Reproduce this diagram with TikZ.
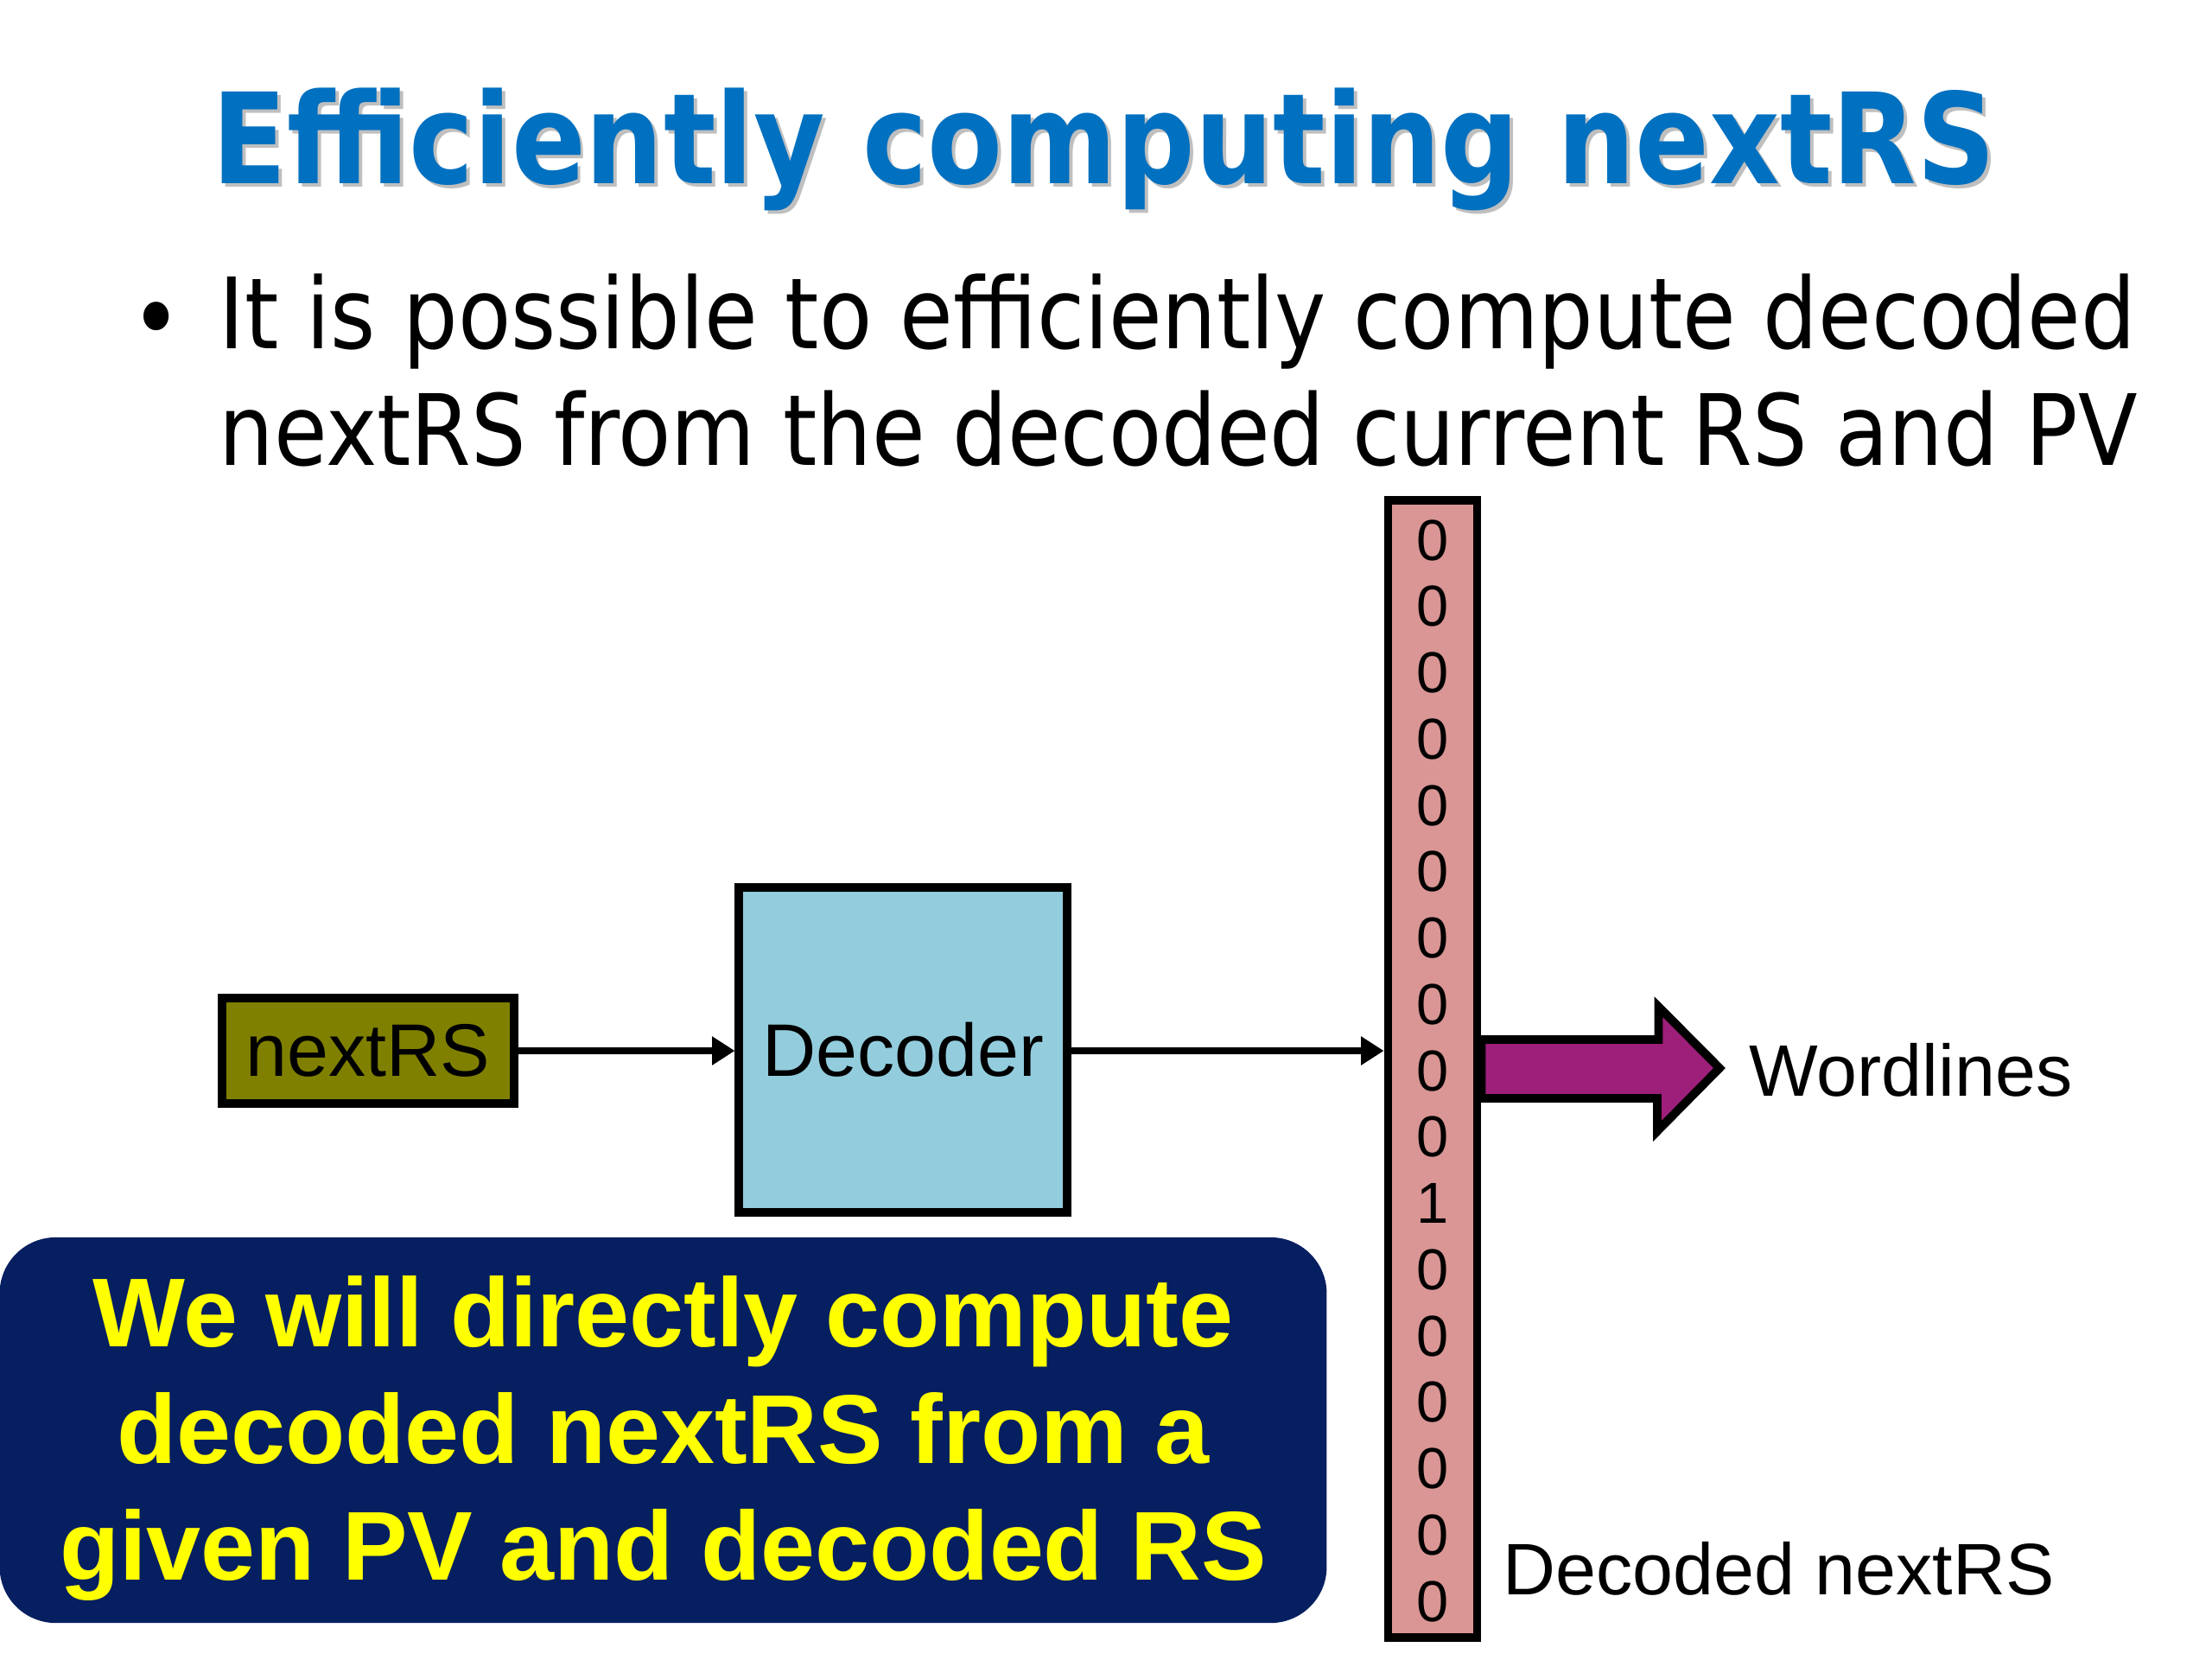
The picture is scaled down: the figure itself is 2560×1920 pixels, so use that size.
\documentclass[tikz,border=0pt]{standalone}
\usepackage{fontspec}
\setmainfont{Liberation Sans}
\newfontfamily\tahoma[FakeStretch=0.88]{DejaVu Sans}
\newfontfamily\tahomatitle[FakeStretch=0.87]{DejaVu Sans}
\usetikzlibrary{arrows.meta}
\usetikzlibrary{positioning}

\definecolor{titleblue}{HTML}{0070C0}
\definecolor{olivebox}{HTML}{808000}
\definecolor{decblue}{HTML}{93CDDD}
\definecolor{bitpink}{HTML}{D99694}
\definecolor{wlpurple}{HTML}{9E1F7A}
\definecolor{notenavy}{HTML}{061F60}
\definecolor{noteyellow}{HTML}{FFFF00}

\begin{document}
\begin{tikzpicture}[
  x=0.01cm, y=-0.01cm,
  box/.style={draw,line width=2.8pt,inner sep=0pt,font=\fontsize{24.5}{30}\selectfont},
  bit/.style={inner sep=0pt,font=\fontsize{19}{20}\selectfont},
  lbl/.style={inner sep=0pt,anchor=base west,font=\fontsize{24}{28}\selectfont},
  link/.style={line width=2.2pt,-{Triangle[length=7.5pt,width=9pt]}},
  slide/.style={inner sep=0pt,anchor=base west,font=\tahoma\fontsize{32.4}{38}\selectfont},
  headline/.style={slide,font=\tahomatitle\bfseries\fontsize{41.4}{48}\selectfont}
]
\useasboundingbox (0,0) rectangle (2560,1920);

% title and bullet
\node[headline,text=black!25] (titleshadow) at (249,216) {Efficiently computing nextRS};
\node[headline,text=titleblue] (title) at (245,212) {Efficiently computing nextRS};
\node[slide,anchor=center] (dot) at (181,379) {•};
\node[slide] (line1) at (253,403) {It is possible to efficiently compute decoded};
\node[slide] (line2) at (253,538) {nextRS from the decoded current RS and PV};

% blocks
\node[box,fill=olivebox,minimum width=3.37cm,minimum height=1.22cm] (rs) at (426,1216) {nextRS};
\node[box,fill=decblue,minimum width=3.79cm,minimum height=3.76cm] (dec) at (1045,1215) {Decoder};
\node[box,fill=bitpink,minimum width=1.03cm,minimum height=13.15cm] (col) at (1658,1237) {};
\foreach \b [count=\i from 0] in {0,0,0,0,0,0,0,0,0,0,1,0,0,0,0,0,0}
  \node[bit] (bit\i) at (1658,625+76.75*\i) {\b};

\draw[link] (rs.east) -- (rs.east -| dec.west);
\draw[link] (dec.east |- rs.east) -- (rs.east -| col.west);

% wordlines arrow
\draw[line width=2.8pt,fill=wlpurple,line join=miter]
  ([yshift=0.34cm]col.east) -- ++(205,0) -- ++(0,-38) -- (1990,1236)
  -- (1918,1309) -- ++(0,-38) -- ([yshift=-0.34cm]col.east) -- cycle;
\node[lbl] (wl) at (2024,1268) {Wordlines};
\node[lbl] (dn) at (1739,1845) {Decoded nextRS};

% note
\node[fill=notenavy,rounded corners=0.65cm,minimum width=15.35cm,minimum height=4.46cm,
  inner sep=0pt,text=noteyellow,align=center,font=\bfseries\fontsize{32.2}{38.4}\selectfont]
  (note) at (767.5,1655) {\rule{0pt}{28.5pt}We will directly compute\\decoded nextRS from a\\given PV and decoded RS};
\end{tikzpicture}
\end{document}
